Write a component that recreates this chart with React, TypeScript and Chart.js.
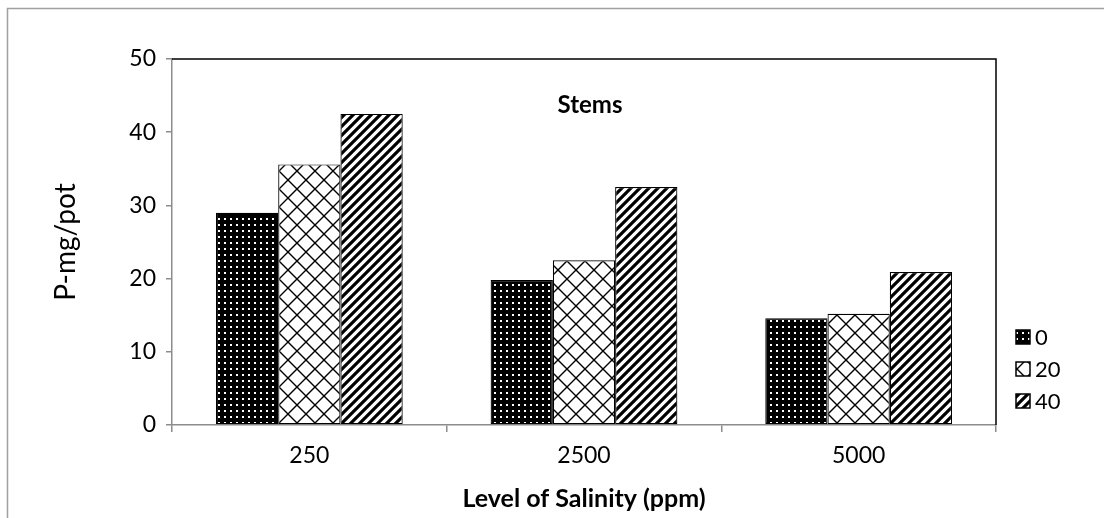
import React, { useEffect, useRef } from "react";
import { Chart, registerables } from "chart.js";

Chart.register(...registerables);

const categories = ["250", "2500", "5000"];
const seriesLabels = ["0", "20", "40"];
const series0 = [29.0, 19.8, 14.6];
const series20 = [35.6, 22.5, 15.2];
const series40 = [42.5, 32.5, 20.9];
const yTicks = [0, 10, 20, 30, 40, 50];

const FONT = "Lato, 'Open Sans', sans-serif";

function makeDots(): CanvasPattern | string {
  const c = document.createElement("canvas");
  c.width = 6;
  c.height = 6;
  const g = c.getContext("2d")!;
  g.fillStyle = "#000";
  g.fillRect(0, 0, 6, 6);
  g.fillStyle = "#fff";
  g.fillRect(2, 2, 2, 2);
  return g.createPattern(c, "repeat") || "#000";
}

function makeLattice(): CanvasPattern | string {
  const s = 18;
  const c = document.createElement("canvas");
  c.width = s;
  c.height = s;
  const g = c.getContext("2d")!;
  g.fillStyle = "#fff";
  g.fillRect(0, 0, s, s);
  g.strokeStyle = "#000";
  g.lineWidth = 1.4;
  g.beginPath();
  g.moveTo(0, 0);
  g.lineTo(s, s);
  g.moveTo(0, s);
  g.lineTo(s, 0);
  g.stroke();
  return g.createPattern(c, "repeat") || "#fff";
}

function makeStripes(): CanvasPattern | string {
  const s = 9;
  const c = document.createElement("canvas");
  c.width = s;
  c.height = s;
  const g = c.getContext("2d")!;
  g.fillStyle = "#fff";
  g.fillRect(0, 0, s, s);
  g.strokeStyle = "#000";
  g.lineWidth = 3.2;
  g.beginPath();
  g.moveTo(-s, s);
  g.lineTo(s, -s);
  g.moveTo(0, s);
  g.lineTo(s, 0);
  g.moveTo(0, 2 * s);
  g.lineTo(2 * s, 0);
  g.stroke();
  return g.createPattern(c, "repeat") || "#fff";
}

export default function App() {
  const ref = useRef<HTMLCanvasElement | null>(null);

  useEffect(() => {
    const canvas = ref.current;
    if (!canvas) return;
    const fills = [makeDots(), makeLattice(), makeStripes()];
    const values = [series0, series20, series40];

    const decor = {
      id: "decor",
      beforeDraw(chart: any) {
        const ctx = chart.ctx;
        ctx.save();
        ctx.fillStyle = "#fff";
        ctx.fillRect(0, 0, chart.width, chart.height);
        ctx.strokeStyle = "#a0a0a0";
        ctx.lineWidth = 1.5;
        ctx.strokeRect(7.5, 8.5, chart.width + 20, chart.height + 20);
        ctx.restore();
      },
      afterDraw(chart: any) {
        const ctx = chart.ctx;
        const a = chart.chartArea;
        ctx.save();
        ctx.strokeStyle = "#000";
        ctx.lineWidth = 1.5;
        ctx.beginPath();
        ctx.moveTo(a.left, a.top);
        ctx.lineTo(a.right, a.top);
        ctx.lineTo(a.right, a.bottom);
        ctx.stroke();
        ctx.fillStyle = "#000";
        ctx.textAlign = "center";
        ctx.textBaseline = "middle";
        ctx.font = `bold 24px ${FONT}`;
        ctx.fillText("Stems", 590, 105);
        ctx.font = `bold 25px ${FONT}`;
        ctx.fillText("Level of Salinity (ppm)", (a.left + a.right) / 2, 499);
        ctx.save();
        ctx.translate(66, (a.top + a.bottom) / 2);
        ctx.rotate(-Math.PI / 2);
        ctx.font = `28px ${FONT}`;
        ctx.fillText("P-mg/pot", 0, 0);
        ctx.restore();
        const lx = 1016;
        const ys = [337, 369, 401];
        const bs = 14;
        ctx.textAlign = "left";
        ctx.font = `22px ${FONT}`;
        chart.data.datasets.forEach((ds: any, i: number) => {
          ctx.fillStyle = ds.backgroundColor;
          ctx.fillRect(lx, ys[i] - bs / 2, bs, bs);
          ctx.strokeStyle = "#000";
          ctx.lineWidth = 1.5;
          ctx.strokeRect(lx, ys[i] - bs / 2, bs, bs);
          ctx.fillStyle = "#000";
          ctx.fillText(ds.label, lx + bs + 5, ys[i] + 1);
        });
        ctx.restore();
      },
    };

    const chart = new Chart(canvas, {
      type: "bar",
      data: {
        labels: categories,
        datasets: seriesLabels.map((l, i) => ({
          label: l,
          data: values[i],
          backgroundColor: fills[i] as any,
          borderColor: "#000",
          borderWidth: 1.2,
          borderSkipped: false,
          categoryPercentage: 0.68,
          barPercentage: 1,
        })),
      },
      options: {
        responsive: false,
        animation: false,
        devicePixelRatio: 1,
        layout: { padding: { top: 59, right: 108, left: 0, bottom: 0 } },
        plugins: {
          legend: { display: false },
          tooltip: { enabled: false },
          title: { display: false },
        },
        scales: {
          x: {
            afterFit(scale: any) {
              scale.height = 93;
            },
            grid: {
              display: true,
              drawOnChartArea: false,
              drawTicks: true,
              tickLength: 7,
              color: "#8c8c8c",
              lineWidth: 1.5,
              offset: true,
            },
            border: { display: true, color: "#8c8c8c", width: 1.5 },
            ticks: {
              color: "#000",
              font: { family: FONT, size: 23 },
              padding: 10,
            },
          },
          y: {
            min: 0,
            max: 50,
            afterFit(scale: any) {
              scale.width = 172;
            },
            afterBuildTicks(scale: any) {
              scale.ticks = yTicks.map((v) => ({ value: v }));
            },
            grid: {
              display: true,
              drawOnChartArea: false,
              drawTicks: true,
              tickLength: 6,
              color: "#8c8c8c",
              lineWidth: 1.5,
            },
            border: { display: true, color: "#8c8c8c", width: 1.5 },
            ticks: {
              color: "#000",
              font: { family: FONT, size: 23 },
              padding: 10,
            },
          },
        },
      },
      plugins: [decor],
    });
    return () => chart.destroy();
  }, []);

  return (
    <div style={{ position: "absolute", left: 0, top: 0, width: 1104, height: 518 }}>
      <canvas ref={ref} width={1104} height={518} style={{ display: "block" }} />
    </div>
  );
}
